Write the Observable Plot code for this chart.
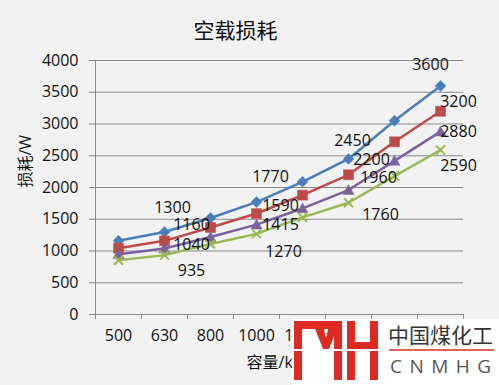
<!DOCTYPE html>
<html><head><meta charset="utf-8">
<script src="https://cdn.jsdelivr.net/npm/d3@7"></script>
<script src="https://cdn.jsdelivr.net/npm/@observablehq/plot@0.6"></script>
<style>
body{margin:0;background:#f2f2f2;}
#wrap{position:relative;width:499px;height:385px;overflow:hidden;background:#f2f2f2;}
#logo{position:absolute;left:0;top:0;pointer-events:none;}
</style></head><body><div id="wrap"></div>
<script>
// ---- data ----
const categories = ["500","630","800","1000","1250","1600","2000","2500"];
const seriesBlue   = [1160,1300,1520,1770,2090,2450,3050,3600];
const seriesRed    = [1045,1160,1370,1590,1880,2200,2720,3200];
const seriesPurple = [950,1040,1220,1415,1670,1960,2420,2880];
const seriesGreen  = [855,935,1110,1270,1530,1760,2180,2590];
const yTicks = [0,500,1000,1500,2000,2500,3000,3500,4000];
const labeledCategories = ["630","1000","1600","2500"];
const titleText = "空载损耗";
const yLabel = "损耗/W";
const xLabel = "容量/kVA";

// ---- styles ----
const gray = "#8a8a8a";
const diamondSym = {draw(ctx){const r=5.5;ctx.moveTo(0,-r);ctx.lineTo(r,0);ctx.lineTo(0,r);ctx.lineTo(-r,0);ctx.closePath();}};
const squareSym = {draw(ctx){const h=5;ctx.moveTo(-h,-h);ctx.lineTo(h,-h);ctx.lineTo(h,h);ctx.lineTo(-h,h);ctx.closePath();}};
const triSym = {draw(ctx){const h=5.5;ctx.moveTo(0,-h);ctx.lineTo(h,h*0.8);ctx.lineTo(-h,h*0.8);ctx.closePath();}};
const xSym = {draw(ctx){const h=4.5;ctx.moveTo(-h,-h);ctx.lineTo(h,h);ctx.moveTo(h,-h);ctx.lineTo(-h,h);}};
const seriesStyles = [
  {values: seriesBlue,   color:"#4a7ebb", symbol: diamondSym, filled:true, offsets:[[8,-24],[14,-25],[4,-18],[-10,-21]]},
  {values: seriesRed,    color:"#be4b48", symbol: squareSym,  filled:true, offsets:[[27,-16],[24,-8],[23,-15],[18,-9]]},
  {values: seriesPurple, color:"#7d60a0", symbol: triSym,     filled:true, offsets:[[27,-4],[24,0],[30,-12],[18,0]]},
  {values: seriesGreen,  color:"#98b954", symbol: xSym,       filled:false, offsets:[[27,16],[27,18],[32,12],[18,16]]}
];

const marks = [
  Plot.gridY(yTicks, {stroke: gray, strokeOpacity: 1}),
  Plot.ruleX([categories[0]], {dx: -23, stroke: gray}),
  Plot.ruleY([0], {stroke: gray}),
  Plot.axisY(yTicks, {tickSize: 6, tickPadding: 11, fontSize: 16, stroke: gray, label: null, tickFormat: d => String(d)}),
  Plot.axisX({tickSize: 0, tickPadding: 15, fontSize: 16, label: null}),
  Plot.axisX({tickSize: 5, tickFormat: () => "", dx: -23, stroke: gray, label: null}),
  Plot.axisX([categories[categories.length-1]], {tickSize: 5, tickFormat: () => "", dx: 23, stroke: gray, label: null})
];

seriesStyles.forEach(s => {
  const rows = categories.map((c,i) => ({cat: c, value: s.values[i]}));
  marks.push(Plot.line(rows, {x: "cat", y: "value", stroke: s.color, strokeWidth: 2.5}));
});
seriesStyles.forEach(s => {
  const rows = categories.map((c,i) => ({cat: c, value: s.values[i]}));
  marks.push(Plot.dot(rows, s.filled
    ? {x: "cat", y: "value", symbol: s.symbol, fill: s.color, stroke: s.color, strokeWidth: 0.5}
    : {x: "cat", y: "value", symbol: s.symbol, fill: "none", stroke: s.color, strokeWidth: 2}));
});
seriesStyles.forEach(s => {
  labeledCategories.forEach((c,k) => {
    const i = categories.indexOf(c);
    const row = {cat: c, value: s.values[i]};
    marks.push(Plot.text([row], {x: "cat", y: "value", text: d => String(d.value),
      dx: s.offsets[k][0], dy: s.offsets[k][1], fontSize: 16, fill: "#111"}));
  });
});
marks.push(Plot.text([titleText], {frameAnchor: "top", dx: -44, dy: -37, fontSize: 21, fill: "#111"}));
marks.push(Plot.text([yLabel], {frameAnchor: "left", rotate: -90, dx: -70, fontSize: 16, fill: "#111"}));
marks.push(Plot.text([xLabel], {frameAnchor: "bottom", dy: 53, fontSize: 16, fill: "#111"}));

const chart = Plot.plot({
  width: 499, height: 385,
  marginLeft: 95, marginRight: 36, marginTop: 60, marginBottom: 71,
  x: {type: "point", domain: categories, padding: 0.5, align: 0.5, label: null},
  y: {domain: [0, 4000], label: null},
  style: {fontFamily: "'Open Sans','Noto Sans CJK SC',sans-serif", fontSize: "16px", background: "transparent", color: "#111", overflow: "visible"},
  marks
});
const wrap = document.getElementById("wrap");
wrap.appendChild(chart);

// watermark overlay
const logo = `<svg id="logo" width="499" height="385" xmlns="http://www.w3.org/2000/svg">
<rect x="292" y="319" width="207" height="66" fill="#ffffff"/>
<g fill="#dc2b22">
<rect x="294" y="321" width="8" height="59"/>
<rect x="294" y="321" width="48" height="8"/>
<polygon points="312,321 322,321 326,338 330,321 340,321 329,349 323,349"/>
<rect x="334" y="321" width="8" height="59"/>
<rect x="347" y="321" width="8" height="59"/>
<rect x="370" y="321" width="8" height="59"/>
<rect x="347" y="342" width="31" height="7"/>
</g>
<rect x="294" y="349" width="84" height="2" fill="#ffffff"/>
<text x="388" y="343" font-family="'Noto Sans CJK SC',sans-serif" font-size="21" fill="#333">中国煤化工</text>
<line x1="389" x2="494" y1="350" y2="350" stroke="#dc2b22" stroke-width="1.5"/>
<text x="390" y="373" font-family="'Open Sans',sans-serif" font-size="19" letter-spacing="7.5" fill="#555">CNMHG</text>
</svg>`;
wrap.insertAdjacentHTML("beforeend", logo);
</script></body></html>
